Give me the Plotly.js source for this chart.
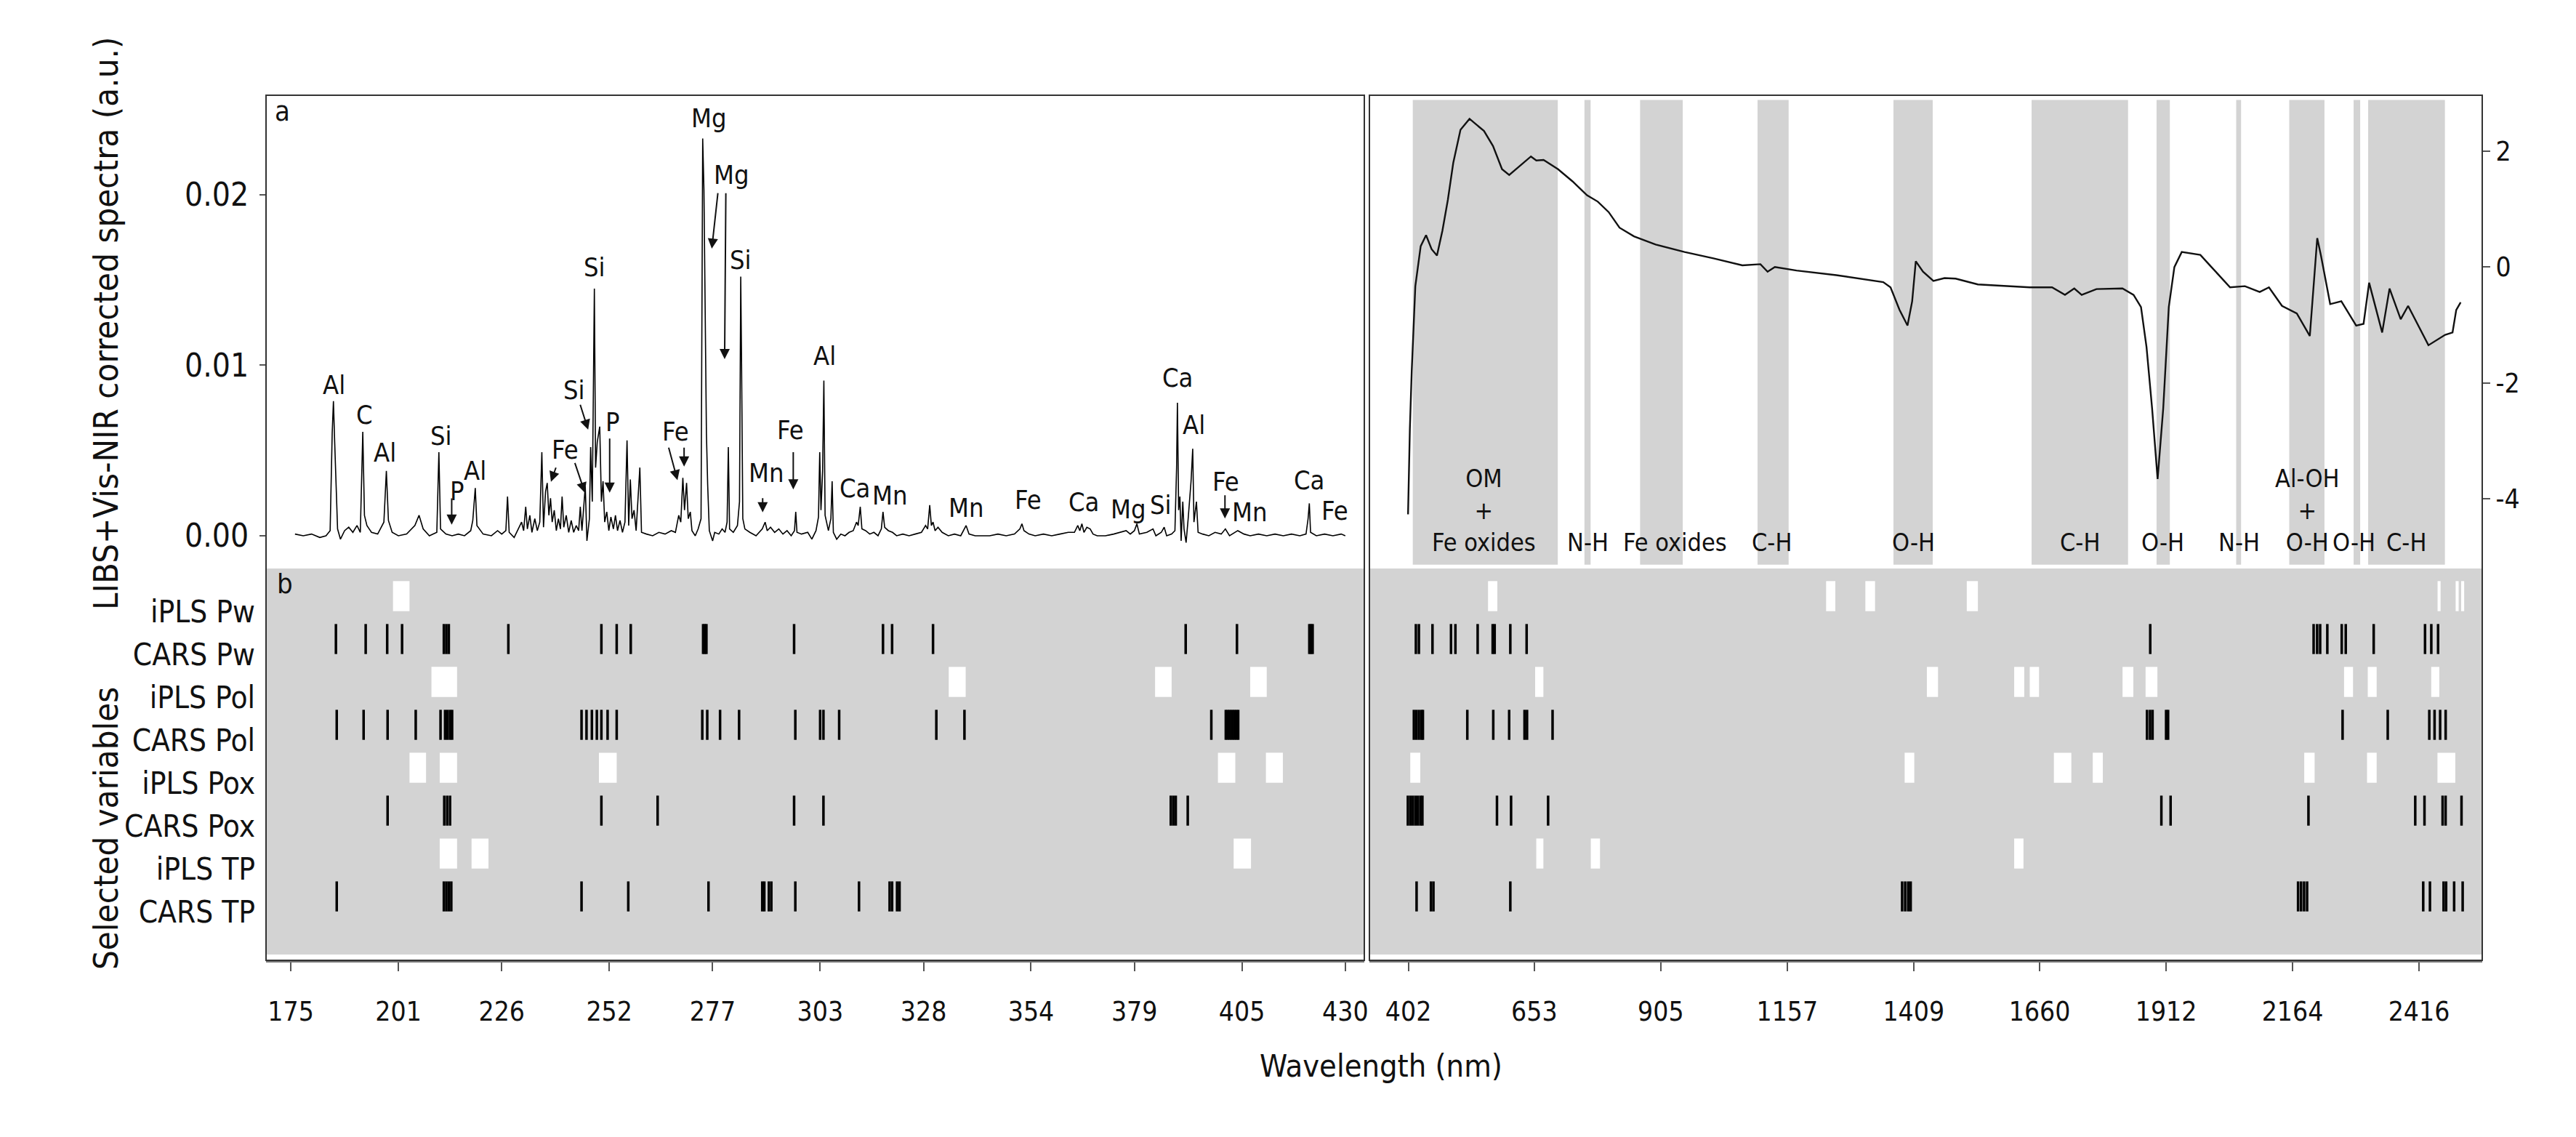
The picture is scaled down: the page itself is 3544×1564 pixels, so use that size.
<!DOCTYPE html>
<html><head><meta charset="utf-8">
<script src="https://cdn.plot.ly/plotly-3.0.1.min.js"></script>
<style>html,body{margin:0;padding:0;background:#fff}#chart{width:3544px;height:1564px}</style>
</head><body><div id="chart"></div>
<script>
const W=3544,H=1564;
const FONT='"Liberation Sans Narrow","DejaVu Sans Condensed","Liberation Sans",Arial,sans-serif';

// ---------- tick labels ----------
const libsTickVals=[175,201,226,252,277,303,328,354,379,405,430];
const nirTickVals=[402,653,905,1157,1409,1660,1912,2164,2416];
const libsYTickVals=[0,0.01,0.02];
const libsYTickText=['0.00','0.01','0.02'];
const nirYTickVals=[-4,-2,0,2];
const nirYTickText=['-4','-2','0','2'];
const rowNames=['iPLS Pw','CARS Pw','iPLS Pol','CARS Pol','iPLS Pox','CARS Pox','iPLS TP','CARS TP'];

// ---------- LIBS spectrum [wavelength nm, intensity a.u.] ----------
const libsSpectrum=[[176.0,0.0001],[178.0,0.0000],[180.0,0.0001],[182.0,-0.0001],[183.5,0.0000],[184.5,0.0003],[185.0,0.0060],[185.3,0.0079],[185.6,0.0055],[185.9,0.0030],[186.3,0.0004],[187.0,-0.0002],[188.0,0.0003],[189.0,0.0005],[190.0,0.0002],[191.0,0.0006],[191.8,0.0002],[192.4,0.0061],[192.8,0.0012],[193.4,0.0006],[194.5,0.0002],[196.0,0.0001],[197.5,0.0008],[198.1,0.0038],[198.6,0.0009],[199.5,0.0002],[201.0,0.0000],[203.0,0.0001],[205.0,0.0006],[206.0,0.0012],[207.0,0.0004],[208.5,0.0000],[210.3,0.0002],[210.8,0.0049],[211.2,0.0004],[212.5,0.0001],[214.0,0.0000],[215.5,0.0001],[217.0,0.0000],[218.5,0.0003],[219.0,0.0009],[219.6,0.0028],[220.0,0.0006],[221.5,0.0001],[223.5,0.0000],[225.0,0.0003],[226.0,0.0001],[227.0,0.0003],[227.4,0.0023],[227.8,0.0002],[229.0,-0.0001],[230.0,0.0004],[230.8,0.0008],[231.3,0.0003],[231.8,0.0017],[232.2,0.0004],[232.8,0.0012],[233.3,0.0002],[234.0,0.0010],[234.6,0.0003],[235.2,0.0008],[235.7,0.0049],[236.1,0.0005],[236.6,0.0026],[237.0,0.0031],[237.4,0.0012],[237.8,0.0022],[238.2,0.0008],[238.7,0.0015],[239.2,0.0003],[239.7,0.0010],[240.2,0.0004],[240.6,0.0023],[241.0,0.0005],[241.6,0.0012],[242.2,0.0002],[242.8,0.0009],[243.4,0.0002],[244.0,0.0006],[244.6,0.0003],[245.0,0.0017],[245.4,0.0003],[246.2,0.0029],[246.6,-0.0003],[247.2,0.0010],[247.5,0.0052],[247.9,0.0020],[248.4,0.0145],[248.7,0.0040],[249.1,0.0055],[249.7,0.0064],[250.1,0.0020],[250.5,0.0032],[250.9,0.0008],[251.4,0.0014],[251.9,0.0003],[252.4,0.0011],[253.0,0.0004],[253.5,0.0012],[254.0,0.0003],[254.6,0.0009],[255.2,0.0002],[255.8,0.0008],[256.3,0.0056],[256.7,0.0006],[257.1,0.0033],[257.5,0.0010],[258.0,0.0015],[258.5,0.0003],[259.4,0.0040],[259.8,0.0002],[261.0,0.0001],[262.5,0.0000],[264.0,0.0002],[265.5,0.0001],[267.0,0.0003],[268.0,0.0002],[268.8,0.0012],[269.3,0.0008],[269.8,0.0034],[270.2,0.0015],[270.7,0.0031],[271.1,0.0010],[271.6,0.0014],[272.0,0.0003],[272.8,0.0000],[273.5,0.0004],[274.2,0.0010],[274.6,0.0233],[274.9,0.0203],[275.2,0.0142],[275.5,0.0060],[275.8,0.0030],[276.2,0.0003],[277.0,-0.0003],[277.5,0.0002],[278.5,0.0001],[279.3,0.0004],[280.0,0.0002],[280.5,0.0008],[280.8,0.0052],[281.1,0.0004],[282.0,0.0002],[283.0,0.0006],[283.5,0.0020],[283.8,0.0152],[284.0,0.0101],[284.3,0.0010],[284.8,0.0004],[286.0,0.0002],[287.5,0.0000],[289.0,0.0004],[289.7,0.0008],[290.2,0.0003],[291.0,0.0005],[292.0,0.0002],[293.0,0.0004],[294.0,0.0001],[295.0,0.0003],[296.0,0.0000],[296.8,0.0003],[297.1,0.0014],[297.4,0.0002],[298.5,0.0001],[300.0,0.0002],[301.0,-0.0002],[302.0,0.0003],[302.6,0.0011],[302.9,0.0049],[303.2,0.0015],[303.6,0.0038],[303.9,0.0091],[304.2,0.0012],[305.0,0.0003],[305.6,0.0010],[305.9,0.0032],[306.2,0.0002],[307.0,-0.0002],[308.0,0.0001],[309.0,0.0000],[310.0,0.0002],[311.0,0.0003],[311.8,0.0008],[312.2,0.0006],[312.7,0.0017],[313.1,0.0004],[314.0,0.0003],[315.0,0.0001],[316.0,0.0002],[317.0,0.0000],[317.8,0.0004],[318.2,0.0014],[318.6,0.0005],[319.5,0.0003],[320.5,0.0002],[321.5,0.0000],[323.0,0.0001],[324.5,0.0000],[326.0,0.0001],[327.5,0.0002],[328.5,0.0006],[329.0,0.0004],[329.5,0.0018],[329.9,0.0006],[330.3,0.0008],[330.8,0.0003],[331.5,0.0005],[332.5,0.0002],[334.0,0.0000],[335.5,0.0001],[337.0,0.0000],[338.3,0.0006],[339.0,0.0001],[340.5,0.0000],[342.0,0.0000],[344.0,0.0000],[346.0,0.0001],[348.0,0.0000],[350.0,0.0001],[351.3,0.0004],[351.8,0.0007],[352.3,0.0003],[353.5,0.0001],[355.0,0.0000],[357.0,0.0001],[359.0,0.0000],[361.0,0.0001],[363.0,0.0002],[364.5,0.0002],[365.3,0.0006],[365.8,0.0003],[366.3,0.0007],[366.8,0.0002],[367.5,0.0005],[368.3,0.0004],[369.0,0.0001],[370.0,0.0000],[372.0,0.0000],[374.0,0.0001],[375.5,0.0002],[377.0,0.0003],[378.0,0.0001],[379.0,0.0003],[379.6,0.0007],[380.2,0.0001],[382.0,0.0002],[383.5,0.0004],[384.2,0.0000],[385.5,0.0002],[386.2,0.0005],[386.8,0.0000],[388.0,0.0001],[388.8,0.0003],[389.2,0.0040],[389.4,0.0078],[389.7,0.0015],[390.0,0.0023],[390.3,-0.0003],[390.7,0.0020],[391.0,0.0004],[391.5,-0.0004],[392.0,0.0010],[392.7,0.0032],[393.1,0.0051],[393.4,0.0008],[394.0,0.0020],[394.4,0.0002],[395.5,0.0001],[397.0,0.0000],[398.5,0.0002],[400.0,0.0001],[401.0,0.0004],[402.0,0.0000],[404.0,0.0003],[405.5,0.0001],[407.0,0.0000],[409.0,0.0001],[411.0,0.0000],[413.0,0.0001],[415.0,0.0000],[417.0,0.0001],[419.0,0.0000],[420.5,0.0001],[421.0,0.0010],[421.3,0.0019],[421.6,0.0002],[423.0,0.0000],[425.0,0.0001],[427.0,0.0000],[429.0,0.0001],[430.0,0.0000]];

// ---------- Vis-NIR spectrum [wavelength nm, value] ----------
const nirSpectrum=[[401.4,-4.27],[405,-2.8],[408.7,-1.8],[415.9,-0.33],[426.6,0.36],[437.3,0.55],[448.3,0.31],[459,0.20],[469.9,0.63],[480.7,1.16],[491.5,1.80],[505.9,2.37],[523.9,2.56],[534.7,2.48],[552.7,2.35],[570.7,2.09],[588.7,1.69],[603,1.59],[621.1,1.72],[646.3,1.91],[657,1.84],[671.5,1.85],[700.3,1.69],[729.2,1.48],[758,1.24],[779.5,1.13],[801.1,0.95],[822.8,0.68],[851.6,0.53],[894.8,0.39],[952.4,0.26],[1010,0.15],[1067.6,0.03],[1103.6,0.05],[1117.9,-0.08],[1132.4,0.0],[1175.6,-0.06],[1254.9,-0.14],[1348.4,-0.26],[1362.9,-0.35],[1380.8,-0.74],[1396.7,-1.01],[1406,-0.59],[1413.2,0.10],[1427.6,-0.08],[1442,-0.19],[1448.3,-0.24],[1470.5,-0.19],[1492.6,-0.20],[1536.9,-0.30],[1640.3,-0.35],[1684.7,-0.35],[1710.5,-0.48],[1729,-0.37],[1743.8,-0.48],[1773.3,-0.38],[1825,-0.37],[1847.2,-0.48],[1862,-0.69],[1873,-1.38],[1884.1,-2.44],[1895.1,-3.66],[1906.3,-2.44],[1917.4,-0.69],[1928.5,0.0],[1943.2,0.26],[1980.3,0.21],[2002.4,0.0],[2039.5,-0.35],[2069,-0.33],[2098.6,-0.43],[2117,-0.35],[2143,-0.67],[2172.5,-0.80],[2198.4,-1.19],[2213.2,0.50],[2220.6,0.2],[2239,-0.64],[2261.2,-0.59],[2290.8,-1.01],[2305.5,-0.98],[2316.6,-0.27],[2342.6,-1.13],[2357.3,-0.37],[2379.5,-0.90],[2394.3,-0.67],[2434.8,-1.35],[2468.1,-1.17],[2482.8,-1.13],[2490.2,-0.74],[2499,-0.61]];

// ---------- Vis-NIR absorption bands ----------
const nirBands=[[410.8,699.8],[752.9,765.2],[863.8,948.8],[1097.9,1159.8],[1368.7,1446.9],[1644,1836.2],[1893,1919.5],[2051.7,2061.4],[2157.4,2227.6],[2285.7,2298.8],[2314.7,2467.6]];
const nirBandText=['OM<br>+<br>Fe oxides','N-H','Fe oxides','C-H','O-H','C-H','O-H','N-H','Al-OH<br>+<br>O-H','O-H','C-H'];
const nirBandTextWl=[552.7,759,933,1126.7,1408,1740.5,1906,2057.7,2194,2286.6,2390];

// ---------- LIBS element labels ----------
const libsLabelText=['Al','C','Al','Si','P','Al','Si','Fe','Si','P','Fe','Mg','Mg','Si','Mn','Fe','Al','Ca','Mn','Mn','Fe','Ca','Mg','Si','Ca','Al','Fe','Mn','Ca','Fe'];
const libsLabelWl=[185.5,192.9,197.7,211.3,215.2,219.6,243.6,241.4,248.4,252.8,268.1,276.1,281.6,283.8,289.9,295.8,304.0,311.3,319.9,338.3,353.3,366.7,377.6,385.3,389.4,393.4,401.1,406.9,421.3,427.4];
const libsLabelVal=[0.00883,0.00712,0.00487,0.00586,0.00262,0.0038,0.00856,0.00506,0.01576,0.00667,0.00613,0.02448,0.02115,0.0162,0.0037,0.00622,0.01054,0.00281,0.00235,0.00164,0.00212,0.0020,0.00155,0.00182,0.00928,0.0065,0.00316,0.00137,0.00326,0.00145];
// arrows: [tail wl, tail val, tip wl, tip val]
const libsArrows=[[213.9,0.00226,213.9,0.00065],[239.2,0.00406,237.9,0.00317],[243.6,0.00433,246.1,0.00253],[244.9,0.00775,246.9,0.00622],[252.1,0.00577,252.1,0.00253],[266.3,0.00523,268.5,0.00326],[270.1,0.00523,270.1,0.00406],[278.3,0.02016,276.8,0.01684],[280.2,0.02016,279.9,0.01036],[289.1,0.00227,289.1,0.00137],[296.5,0.00497,296.5,0.00272],[400.9,0.00244,400.9,0.00101]];

// ---------- selected variables (LIBS) ----------
const libsIplsPw=[[199.7,203.7]];
const libsCarsPw=[185.9,193.1,198.3,201.9,212.0,212.6,213.2,227.6,250.1,253.8,257.2,274.7,275.1,275.5,296.7,318.2,320.4,330.3,391.4,403.8,421.3,421.7,422.1];
const libsIplsPol=[[209.0,215.2],[334.1,338.2],[384.0,388.0],[407.0,411.0]];
const libsCarsPol=[186.1,192.6,198.4,205.2,211.2,212.3,212.9,213.5,214.0,245.3,246.5,247.8,249.0,250.1,251.6,253.8,274.5,275.7,278.8,283.4,297.0,303.0,303.8,307.6,331.1,337.9,397.6,401.1,401.6,402.1,402.6,403.1,403.6,404.1];
const libsIplsPox=[[203.7,207.7],[211.0,215.2],[249.5,253.8],[399.2,403.4],[410.8,414.9]];
const libsCarsPox=[198.4,212.1,212.8,213.5,250.1,263.7,296.7,303.8,387.8,388.4,389.0,391.9];
const libsIplsTp=[[211.0,215.2],[218.7,222.8],[403.0,407.2]];
const libsCarsTp=[186.1,212.0,212.6,213.2,213.8,245.3,256.6,276.0,289.0,289.5,290.6,291.2,297.0,312.4,319.8,320.4,321.6,322.2];

// ---------- selected variables (Vis-NIR) ----------
const nirIplsPw=[[560.8,579.3],[1234.5,1252.9],[1312.7,1332.0],[1514.8,1537],[2453,2459],[2489,2495],[2500,2506]];
const nirCarsPw=[417,423,450.1,487,495.8,540.1,570,574,605.2,637.7,1880.4,2206,2213,2219,2233.3,2262,2270,2325.7,2428,2440.5,2454];
const nirIplsPol=[[654.6,671.1],[1435.3,1457.5],[1609.3,1629.3],[1640.3,1658.8],[1825.2,1846.8],[1871.1,1894.7],[2266.6,2284.5],[2313.9,2331.6],[2440.3,2456.5]];
const nirCarsPol=[413,418,423,428,431,519.5,571.2,602.9,633.5,638.5,689.4,1874,1880,1885,1912,1916,2263.7,2353.7,2436.5,2447,2458.1,2469.1];
const nirIplsPox=[[405.8,425.8],[1391,1410.2],[1688.4,1723.2],[1765.9,1785.9],[2187.3,2208.0],[2312.4,2331.6],[2452.8,2488.3]];
const nirCarsPox=[401,406,411,416,421,426,430,578.6,606.7,680.5,1902.6,1921,2195.7,2408.5,2426.9,2463,2469,2500.7];
const nirIplsTp=[[656.9,671.1],[765.5,783.9],[1609.3,1627.8]];
const nirCarsTp=[418.4,447,452,605.2,1386,1392,1398,1403,2175,2181,2187,2193,2424.4,2437.8,2465,2470,2486,2503];

// ---------- build ----------
const px=v=>v/W, py=v=>1-v/H;
const HALF=0.35;
const traces=[];
const shapes=[];
const annotations=[];

traces.push({type:'scatter',mode:'lines',x:libsSpectrum.map(p=>p[0]),y:libsSpectrum.map(p=>p[1]),xaxis:'x',yaxis:'y',line:{color:'#000',width:1.6},hoverinfo:'skip',showlegend:false});
traces.push({type:'scatter',mode:'lines',x:nirSpectrum.map(p=>p[0]),y:nirSpectrum.map(p=>p[1]),xaxis:'x2',yaxis:'y2',line:{color:'#111',width:2.4},hoverinfo:'skip',showlegend:false});

// gray backgrounds of panel b
[['x','y3'],['x2','y4']].forEach(([xa,ya])=>shapes.push({type:'rect',xref:xa+' domain',yref:ya+' domain',x0:0,x1:1,y0:0.015,y1:1,fillcolor:'#d3d3d3',line:{width:0},layer:'below'}));

// bands
nirBands.forEach(b=>shapes.push({type:'rect',xref:'x2',yref:'y2 domain',x0:b[0],x1:b[1],y0:0.008,y1:0.99,fillcolor:'#d3d3d3',line:{width:0},layer:'below'}));

function addIpls(list,row,xa,ya){list.forEach(b=>shapes.push({type:'rect',xref:xa,yref:ya,x0:b[0],x1:b[1],y0:row-HALF,y1:row+HALF,fillcolor:'#ffffff',line:{width:0},layer:'below'}));}
function addCars(list,row,xa,ya){const x=[],y=[];list.forEach(v=>{x.push(v,v,null);y.push(row-HALF,row+HALF,null);});traces.push({type:'scatter',mode:'lines',x,y,xaxis:xa,yaxis:ya,line:{color:'#000',width:3.5},hoverinfo:'skip',showlegend:false,connectgaps:false});}

addIpls(libsIplsPw,8,'x','y3');addCars(libsCarsPw,7,'x','y3');
addIpls(libsIplsPol,6,'x','y3');addCars(libsCarsPol,5,'x','y3');
addIpls(libsIplsPox,4,'x','y3');addCars(libsCarsPox,3,'x','y3');
addIpls(libsIplsTp,2,'x','y3');addCars(libsCarsTp,1,'x','y3');
addIpls(nirIplsPw,8,'x2','y4');addCars(nirCarsPw,7,'x2','y4');
addIpls(nirIplsPol,6,'x2','y4');addCars(nirCarsPol,5,'x2','y4');
addIpls(nirIplsPox,4,'x2','y4');addCars(nirCarsPox,3,'x2','y4');
addIpls(nirIplsTp,2,'x2','y4');addCars(nirCarsTp,1,'x2','y4');

// frames
[[366,1877],[1884,3415]].forEach(([a,b])=>shapes.push({type:'rect',xref:'paper',yref:'paper',x0:px(a),x1:px(b),y0:py(1321),y1:py(131),line:{color:'#333',width:2},fillcolor:'rgba(0,0,0,0)',layer:'above'}));

// element labels
libsLabelText.forEach((t,i)=>annotations.push({xref:'x',yref:'y',x:libsLabelWl[i],y:libsLabelVal[i],text:t,showarrow:false,xanchor:'center',yanchor:'middle',font:{family:FONT,size:36,color:'#111'}}));
libsArrows.forEach(a=>annotations.push({xref:'x',yref:'y',axref:'x',ayref:'y',ax:a[0],ay:a[1],x:a[2],y:a[3],text:'',showarrow:true,arrowhead:2,arrowsize:1.4,arrowwidth:2,arrowcolor:'#111',standoff:0,startstandoff:0}));

// band labels
nirBandText.forEach((t,i)=>annotations.push({xref:'x2',yref:'y2 domain',x:nirBandTextWl[i],y:0.022,text:t,showarrow:false,xanchor:'center',yanchor:'bottom',font:{family:FONT,size:34,color:'#111'}}));

// panel letters and titles
const txt=(x,y,t,size,angle)=>annotations.push({xref:'paper',yref:'paper',x:px(x),y:py(y),text:t,textangle:angle||0,showarrow:false,xanchor:'center',yanchor:'middle',font:{family:FONT,size:size,color:'#111'}});
txt(388,153,'a',38);
txt(392,803,'b',38);
txt(145,445,'LIBS+Vis-NIR corrected spectra (a.u.)',47,-90);
txt(145,1140,'Selected variables',47,-90);
txt(1900,1466,'Wavelength (nm)',43);

const axBase={showgrid:false,zeroline:false,tickfont:{family:FONT,size:37,color:'#111'},tickcolor:'#555',tickwidth:2};
const layout={
  width:W,height:H,autosize:false,margin:{l:0,r:0,t:0,b:0},
  paper_bgcolor:'#fff',plot_bgcolor:'rgba(0,0,0,0)',showlegend:false,
  font:{family:FONT,color:'#111'},
  xaxis:Object.assign({},axBase,{domain:[px(366),px(1877)],range:[169,434.6],anchor:'y3',tickmode:'array',tickvals:libsTickVals,ticktext:libsTickVals.map(String),ticks:'outside',ticklen:12,showline:true,linecolor:'#777',linewidth:3,ticklabelstandoff:24}),
  xaxis2:Object.assign({},axBase,{domain:[px(1884),px(3415)],range:[324.4,2542],anchor:'y4',tickmode:'array',tickvals:nirTickVals,ticktext:nirTickVals.map(String),ticks:'outside',ticklen:12,showline:true,linecolor:'#777',linewidth:3,ticklabelstandoff:24}),
  yaxis:Object.assign({},axBase,{domain:[py(782),py(131)],range:[-0.00192,0.02584],anchor:'x',tickmode:'array',tickvals:libsYTickVals,ticktext:libsYTickText,ticks:'outside',ticklen:8,showline:false,tickfont:{family:FONT,size:44,color:'#111'},ticklabelstandoff:6}),
  yaxis2:Object.assign({},axBase,{domain:[py(782),py(131)],range:[-5.205,2.967],anchor:'x2',side:'right',tickmode:'array',tickvals:nirYTickVals,ticktext:nirYTickText,ticks:'outside',ticklen:10,showline:false}),
  yaxis3:Object.assign({},axBase,{domain:[py(1321),py(782)],range:[-0.49,8.644],anchor:'x',tickmode:'array',tickvals:[8,7,6,5,4,3,2,1],ticktext:rowNames,ticks:'',showline:false,tickfont:{family:FONT,size:42,color:'#111'},ticklabelshift:21,ticklabelstandoff:14}),
  yaxis4:Object.assign({},axBase,{domain:[py(1321),py(782)],range:[-0.49,8.644],anchor:'x2',showticklabels:false,ticks:'',showline:false}),
  shapes,annotations
};
Plotly.newPlot('chart',traces,layout,{staticPlot:true,displayModeBar:false});
</script></body></html>
